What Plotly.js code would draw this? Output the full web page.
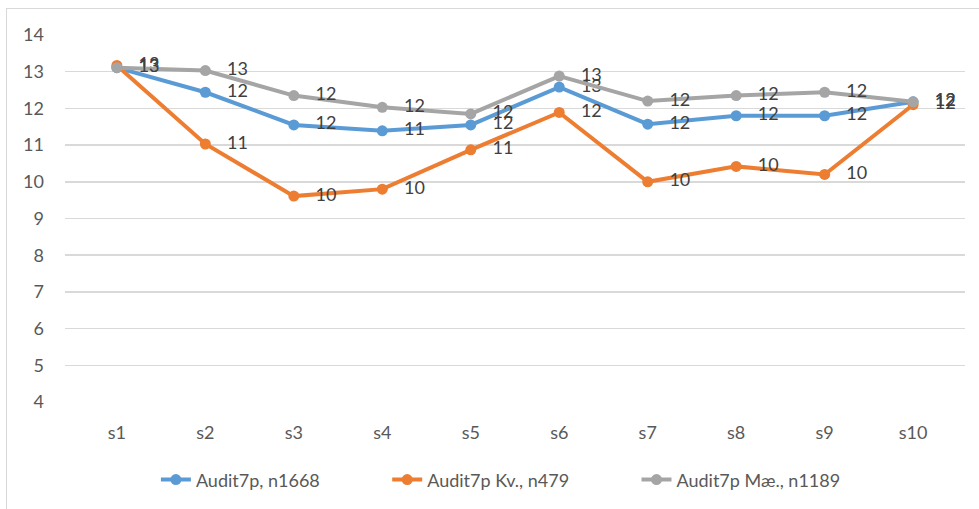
<!DOCTYPE html>
<html>
<head>
<meta charset="utf-8">
<script src="https://cdn.plot.ly/plotly-3.0.1.min.js"></script>
<style>
html,body{margin:0;padding:0;background:#fff;overflow:hidden;}
#chart{position:absolute;left:0;top:0;width:979px;height:509px;}
#frame{position:absolute;left:6px;top:8px;width:1000px;height:600px;border:1px solid #D9D9D9;pointer-events:none;z-index:10;}
</style>
</head>
<body>
<div id="chart"></div>
<div id="frame"></div>
<script>
const categories = ['s1','s2','s3','s4','s5','s6','s7','s8','s9','s10'];
const seriesNames = ['Audit7p, n1668','Audit7p Kv., n479','Audit7p Mæ., n1189'];
const audit7p   = [13.11, 12.44, 11.55, 11.39, 11.55, 12.58, 11.57, 11.80, 11.80, 12.18];
const audit7pKv = [13.17, 11.03, 9.61, 9.80, 10.87, 11.89, 10.00, 10.42, 10.20, 12.10];
const audit7pMae= [13.11, 13.03, 12.35, 12.03, 11.85, 12.88, 12.20, 12.35, 12.44, 12.18];
const colors = ['#5B9BD5','#ED7D31','#A5A5A5'];
const yTicks = [4,5,6,7,8,9,10,11,12,13,14];

const FONT = 'Lato, "Open Sans", sans-serif';
const legendIds = ['legend','legend2','legend3'];
const legendX = [0.101, 0.358, 0.635];
const allSeries = [audit7p, audit7pKv, audit7pMae];
const traces = allSeries.map((vals, i) => ({
  type: 'scatter',
  mode: 'lines+markers+text',
  name: seriesNames[i],
  legend: legendIds[i],
  x: categories,
  y: vals,
  line: {color: colors[i], width: 4},
  marker: {color: colors[i], size: 11},
  texttemplate: '\u00a0\u00a0\u00a0%{y:.0f}',
  textposition: 'middle right',
  textfont: {family: FONT, size: 18, color: '#404040'},
  cliponaxis: false,
  hoverinfo: 'x+y'
}));

const layout = {
  width: 979, height: 509,
  margin: {l: 65, r: 14, t: 35, b: 106},
  paper_bgcolor: '#fff', plot_bgcolor: '#fff',
  font: {family: FONT, size: 18, color: '#595959'},
  showlegend: true,
  xaxis: {type: 'category', showgrid: false, zeroline: false, showline: false, ticks: '',
          ticklabelstandoff: 18, tickfont: {family: FONT, size: 18, color: '#595959'}},
  yaxis: {range: [4, 14], tickvals: yTicks, showgrid: true, gridcolor: '#D9D9D9', gridwidth: 1.5,
          zeroline: false, showline: false, ticks: '', ticklabelstandoff: 20,
          tickfont: {family: FONT, size: 18, color: '#595959'}}
};
legendIds.forEach((id, i) => {
  layout[id] = {orientation: 'h', x: legendX[i], xanchor: 'left', y: -0.209, yanchor: 'middle',
                bgcolor: 'rgba(0,0,0,0)', font: {family: FONT, size: 18, color: '#595959'}};
});
Plotly.newPlot('chart', traces, layout, {displayModeBar: false, staticPlot: true});
</script>
</body>
</html>
